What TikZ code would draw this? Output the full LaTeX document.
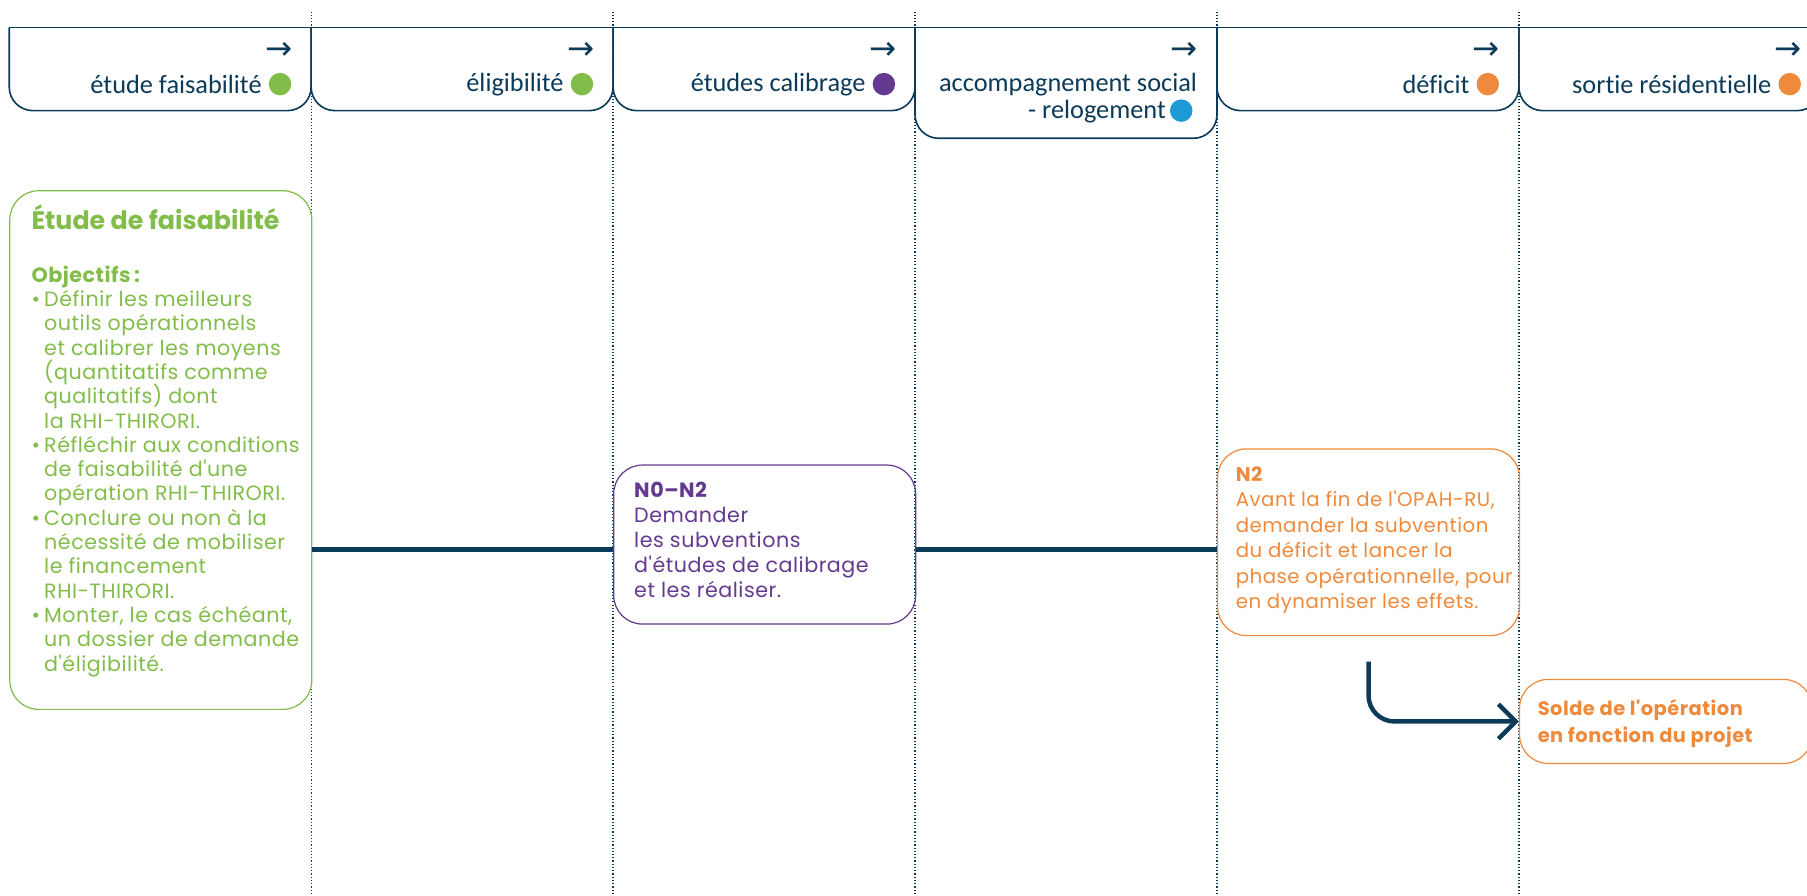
\documentclass[tikz,border=0pt]{standalone}
\usepackage{fontspec}
\setmainfont{Poppins}[Ligatures=TeXOff,LetterSpace=2.5]
\newfontfamily\titlefont{Poppins}[Ligatures=TeXOff]
\newfontfamily\headfont{Carlito}[Ligatures={TeXOff,NoCommon}]
\newfontfamily\symbfont{DejaVu Sans}
\usetikzlibrary{positioning,arrows.meta}

\definecolor{navy}{HTML}{0B3B59}
\definecolor{leaf}{HTML}{82BD4A}
\definecolor{grape}{HTML}{633A8F}
\definecolor{tangerine}{HTML}{EF8A3C}
\definecolor{sky}{HTML}{1D9AD6}

\newcommand{\itembul}{\makebox[2.2mm][l]{\textbullet}}
\newcommand{\itemind}{\hspace*{2.2mm}}
\newcommand{\tightlines}{\lineskiplimit=-20pt\relax}

\begin{document}
\begin{tikzpicture}
        [x=0.2mm,y=-0.2mm,>={Straight Barb[length=3mm,width=6mm]},
         headline/.style={draw=navy,line width=0.8pt,rounded corners=4.1mm},
         divider/.style={navy,densely dotted,line width=0.6pt},
         headtxt/.style={text=navy,font=\headfont\fontsize{13}{13.4}\selectfont,align=right,inner sep=0pt},
         headarrow/.style={text=navy,font=\symbfont\fontsize{16}{16}\selectfont,inner sep=0pt},
         dot/.style={circle,inner sep=0pt,minimum size=3.9mm},
         stepbox/.style={draw,line width=0.6pt,rounded corners=5mm,anchor=north west,inner sep=0pt},
         steptxt/.style={align=left,anchor=north west,inner sep=0pt,execute at begin node=\tightlines},
         axisline/.style={navy,line width=2.2pt}]

        \useasboundingbox (0,0) rectangle (1568,777);
        \draw[headline] (8,24) -- (1568,24);

        \begin{scope}[shift={(8,0)}]
            \draw[headline] (0,24) -- (0,96) -- (262,96) -- (262,24);
            \draw[divider] (262,10) -- (262,777);
            \node[headarrow,anchor=east] (arrowfaisa) at (246,44) {→};
            \node[dot,fill=leaf] (dotfaisa) at (235,73) {};
            \node[headtxt,left=1.1mm of dotfaisa] (headfaisa) {étude faisabilité};
        \end{scope}

        \begin{scope}[shift={(270,0)}]
            \draw[headline] (0,24) -- (0,96) -- (262,96) -- (262,24);
            \draw[divider] (262,10) -- (262,777);
            \node[headarrow,anchor=east] (arroweligi) at (246,44) {→};
            \node[dot,fill=leaf] (doteligi) at (235,73) {};
            \node[headtxt,left=1.1mm of doteligi] (headeligi) {éligibilité};
        \end{scope}

        \begin{scope}[shift={(532,0)}]
            \draw[headline] (0,24) -- (0,96) -- (262,96) -- (262,24);
            \draw[divider] (262,10) -- (262,777);
            \node[headarrow,anchor=east] (arrowcalib) at (246,44) {→};
            \node[dot,fill=grape] (dotcalib) at (235,73) {};
            \node[headtxt,left=1.1mm of dotcalib] (headcalib) {études calibrage};
        \end{scope}

        \begin{scope}[shift={(794,0)}]
            \draw[headline] (0,24) -- (0,120) -- (262,120) -- (262,24);
            \draw[divider] (262,10) -- (262,777);
            \node[headarrow,anchor=east] (arrowaccomp) at (246,44) {→};
            \node[dot,fill=sky] (dotaccomp) at (231,96) {};
            \node[headtxt,anchor=east] (headaccomp) at (245,85) {accompagnement social\\- relogement\hspace*{5.4mm}};
        \end{scope}

        \begin{scope}[shift={(1056,0)}]
            \draw[headline] (0,24) -- (0,96) -- (262,96) -- (262,24);
            \draw[divider] (262,10) -- (262,777);
            \node[headarrow,anchor=east] (arrowdeficit) at (246,44) {→};
            \node[dot,fill=tangerine] (dotdeficit) at (235,73) {};
            \node[headtxt,left=1.1mm of dotdeficit] (headdeficit) {déficit};
        \end{scope}

        \begin{scope}[shift={(1318,0)}]
            \draw[headline] (0,24) -- (0,96) -- (262,96) -- (262,24);
            \node[headarrow,anchor=east] (arrowsortie) at (246,44) {→};
            \node[dot,fill=tangerine] (dotsortie) at (235,73) {};
            \node[headtxt,left=1.1mm of dotsortie] (headsortie) {sortie résidentielle};
        \end{scope}

        \node[stepbox,draw=leaf,minimum width=52.4mm,minimum height=90mm] (faisabox) at (8,165) {};
        \node[steptxt,text=leaf,font=\fontsize{10.2}{12}\selectfont] (faisatext)
            at ([xshift=3.8mm,yshift=-2.4mm]faisabox.north west)
            {{\titlefont\bfseries\fontsize{12.5}{13}\selectfont Étude de faisabilité}\\[5mm]
             \textbf{Objectifs\,:}\\
             \itembul Définir les meilleurs\\
             \itemind outils opérationnels\\
             \itemind et calibrer les moyens\\
             \itemind (quantitatifs comme\\
             \itemind qualitatifs) dont\\
             \itemind la RHI-THIRORI.\\
             \itembul Réfléchir aux conditions\\
             \itemind de faisabilité d'une\\
             \itemind opération RHI-THIRORI.\\
             \itembul Conclure ou non à la\\
             \itemind nécessité de mobiliser\\
             \itemind le financement\\
             \itemind RHI-THIRORI.\\
             \itembul Monter, le cas échéant,\\
             \itemind un dossier de demande\\
             \itemind d'éligibilité.};

        \node[stepbox,draw=grape,minimum width=52.4mm,minimum height=27.6mm] (calibbox) at (532,403) {};
        \node[steptxt,text=grape,font=\fontsize{10.2}{12.4}\selectfont] (calibtext)
            at ([xshift=3.6mm,yshift=-3mm]calibbox.north west)
            {\textbf{N0–N2}\\Demander\\les subventions\\d'études de calibrage\\et les réaliser.};

        \node[stepbox,draw=tangerine,minimum width=52.4mm,minimum height=32.4mm] (deficitbox) at (1056,389) {};
        \node[steptxt,text=tangerine,font=\fontsize{9.75}{12.6}\selectfont] (deficittext)
            at ([xshift=3.2mm,yshift=-3.1mm]deficitbox.north west)
            {\textbf{N2}\\Avant la fin de l'OPAH-RU,\\demander la subvention\\du déficit et lancer la\\phase opérationnelle, pour\\en dynamiser les effets.};

        \node[stepbox,draw=tangerine,minimum width=50.8mm,minimum height=14.6mm] (soldebox) at (1318,589) {};
        \node[steptxt,text=tangerine,font=\bfseries\fontsize{9.6}{13.6}\selectfont] (soldetext)
            at ([xshift=3.2mm,yshift=-3.4mm]soldebox.north west)
            {Solde de l'opération\\en fonction du projet};

        \coordinate (axis) at (0,477);
        \draw[axisline] (faisabox.east |- axis) -- (calibbox.west |- axis);
        \draw[axisline] (calibbox.east |- axis) -- (deficitbox.west |- axis);

        \coordinate (soldestart) at ([yshift=-4.4mm]deficitbox.south);
        \draw[axisline,->,rounded corners=4.5mm] (soldestart) |- (soldebox.west);

    \end{tikzpicture}
\end{document}
